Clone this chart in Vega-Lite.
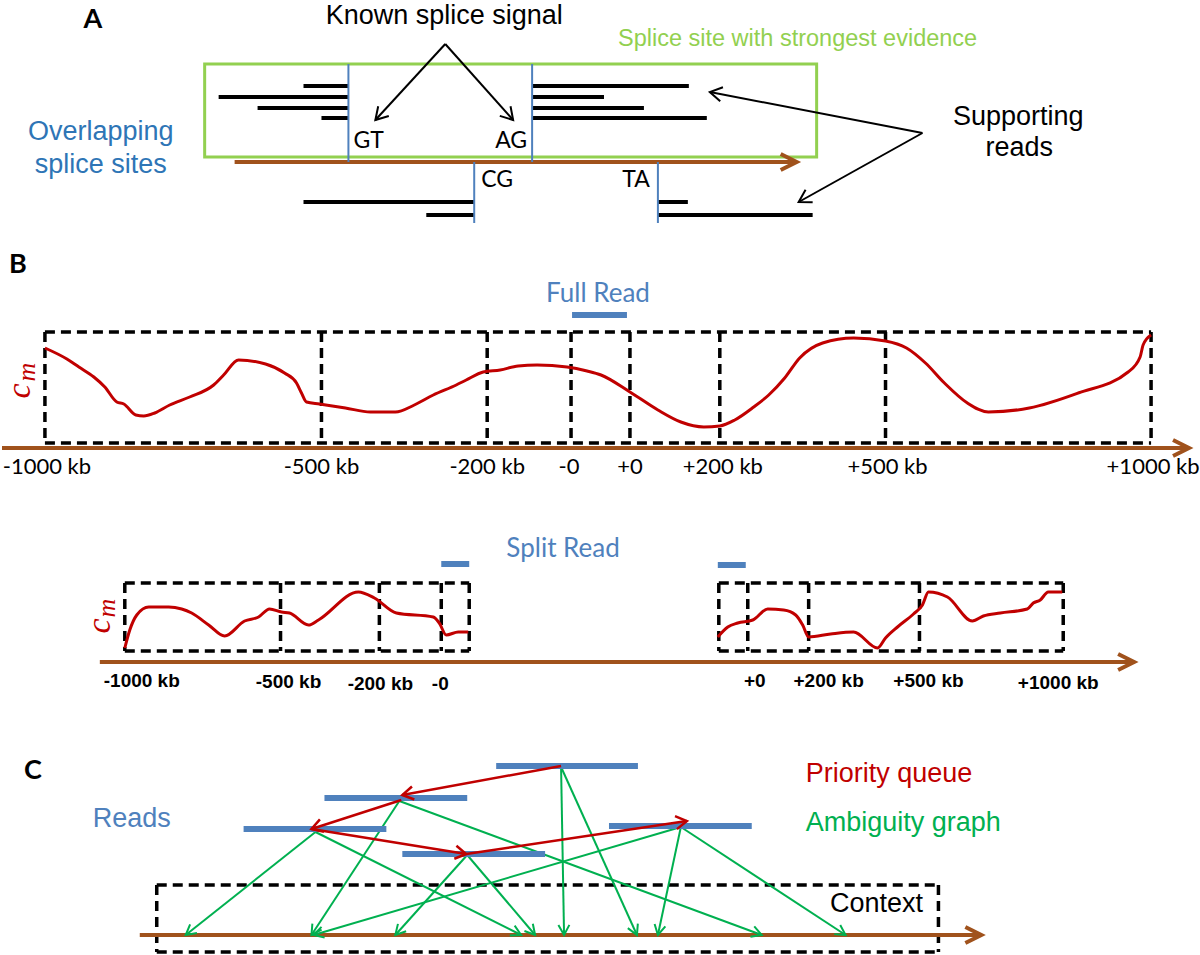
{
"$schema": "https://vega.github.io/schema/vega-lite/v6.json",
"width": 1200, "height": 955,
"autosize": {"type": "fit", "contains": "padding"},
"padding": 0,
"background": "white",
"config": {"view": {"stroke": null}},
"datasets": {
"segs": [
{"kind":"read","x":302,"y":86,"x2":347,"y2":86},{"kind":"read","x":217,"y":97,"x2":347,"y2":97},{"kind":"read","x":256,"y":108,"x2":347,"y2":108},{"kind":"read","x":320,"y":118,"x2":347,"y2":118},
{"kind":"read","x":531,"y":86,"x2":688,"y2":86},{"kind":"read","x":531,"y":97,"x2":603,"y2":97},{"kind":"read","x":531,"y":108,"x2":643,"y2":108},{"kind":"read","x":531,"y":118,"x2":706,"y2":118},
{"kind":"read","x":302,"y":202,"x2":473,"y2":202},{"kind":"read","x":425,"y":215,"x2":473,"y2":215},{"kind":"read","x":657,"y":202,"x2":687,"y2":202},{"kind":"read","x":657,"y":215,"x2":812,"y2":215},
{"kind":"site","x":347,"y":64,"x2":347,"y2":162},{"kind":"site","x":531,"y":64,"x2":531,"y2":162},{"kind":"site","x":473,"y":162,"x2":473,"y2":223},{"kind":"site","x":657,"y":162,"x2":657,"y2":223},
{"kind":"brown","x":233,"y":162,"x2":795,"y2":162},{"kind":"brown","x":0,"y":448,"x2":1187,"y2":448},{"kind":"brown","x":98,"y":662,"x2":1132,"y2":662},{"kind":"brown","x":138,"y":935,"x2":979,"y2":935},
{"kind":"black","x":444,"y":44,"x2":374,"y2":120},{"kind":"black","x":444,"y":44,"x2":512,"y2":120},{"kind":"black","x":922,"y":133,"x2":709,"y2":92},{"kind":"black","x":922,"y":133,"x2":798,"y2":202},
{"kind":"bar","x":571,"y":315,"x2":626,"y2":315},{"kind":"bar","x":440,"y":564,"x2":468,"y2":564},{"kind":"bar","x":717,"y":565,"x2":745,"y2":565},
{"kind":"bar","x":495,"y":766,"x2":637,"y2":766},{"kind":"bar","x":323,"y":798,"x2":466,"y2":798},{"kind":"bar","x":242,"y":829,"x2":385,"y2":829},{"kind":"bar","x":401,"y":854,"x2":544,"y2":854},{"kind":"bar","x":608,"y":826,"x2":751,"y2":826},
{"kind":"green","x":314,"y":832,"x2":184,"y2":935},{"kind":"green","x":314,"y":832,"x2":520,"y2":935},{"kind":"green","x":398,"y":801,"x2":310,"y2":935},{"kind":"green","x":398,"y":801,"x2":761,"y2":935},
{"kind":"green","x":560,"y":767,"x2":563,"y2":935},{"kind":"green","x":560,"y":767,"x2":636,"y2":935},{"kind":"green","x":466,"y":855,"x2":394,"y2":935},{"kind":"green","x":466,"y":855,"x2":534,"y2":935},
{"kind":"green","x":680,"y":827,"x2":657,"y2":935},{"kind":"green","x":680,"y":827,"x2":845,"y2":935},{"kind":"green","x":680,"y":827,"x2":312,"y2":935},
{"kind":"red","x":560,"y":766,"x2":401,"y2":795},{"kind":"red","x":400,"y":800,"x2":310,"y2":829},{"kind":"red","x":310,"y":829,"x2":465,"y2":854},{"kind":"red","x":465,"y":854,"x2":686,"y2":821},
{"kind":"dash","x":43,"y":332,"x2":1151,"y2":332},{"kind":"dash","x":43,"y":443,"x2":1151,"y2":443},
{"kind":"dash","x":43,"y":332,"x2":43,"y2":443},{"kind":"dash","x":320,"y":332,"x2":320,"y2":443},{"kind":"dash","x":486,"y":332,"x2":486,"y2":443},{"kind":"dash","x":570,"y":332,"x2":570,"y2":443},{"kind":"dash","x":629,"y":332,"x2":629,"y2":443},{"kind":"dash","x":719,"y":332,"x2":719,"y2":443},{"kind":"dash","x":885,"y":332,"x2":885,"y2":443},{"kind":"dash","x":1151,"y":332,"x2":1151,"y2":443},
{"kind":"dash","x":123,"y":583,"x2":468,"y2":583},{"kind":"dash","x":123,"y":651,"x2":468,"y2":651},
{"kind":"dash","x":123,"y":583,"x2":123,"y2":651},{"kind":"dash","x":279,"y":583,"x2":279,"y2":651},{"kind":"dash","x":378,"y":583,"x2":378,"y2":651},{"kind":"dash","x":440,"y":583,"x2":440,"y2":651},{"kind":"dash","x":468,"y":583,"x2":468,"y2":651},
{"kind":"dash","x":718,"y":583,"x2":1063,"y2":583},{"kind":"dash","x":718,"y":651,"x2":1063,"y2":651},
{"kind":"dash","x":718,"y":583,"x2":718,"y2":651},{"kind":"dash","x":747,"y":583,"x2":747,"y2":651},{"kind":"dash","x":808,"y":583,"x2":808,"y2":651},{"kind":"dash","x":919,"y":583,"x2":919,"y2":651},{"kind":"dash","x":1063,"y":583,"x2":1063,"y2":651},
{"kind":"dash","x":155,"y":885,"x2":938,"y2":885},{"kind":"dash","x":155,"y":952,"x2":938,"y2":952},{"kind":"dash","x":155,"y":885,"x2":155,"y2":952},{"kind":"dash","x":938,"y":885,"x2":938,"y2":952}
],
"boxes": [
{"kind":"greenbox","x":203,"y":64,"x2":816,"y2":157}
],
"heads": [
{"kind":"black","x":374,"y":120,"angle":132.6},{"kind":"black","x":512,"y":120,"angle":48.2},{"kind":"black","x":709,"y":92,"angle":-169.0},{"kind":"black","x":798,"y":202,"angle":150.5},
{"kind":"brown","x":796,"y":162,"angle":0},{"kind":"brown","x":1189,"y":448,"angle":0},{"kind":"brown","x":1134,"y":662,"angle":0},{"kind":"brown","x":981,"y":935,"angle":0},
{"kind":"red","x":401,"y":795,"angle":169.7},{"kind":"red","x":310,"y":829,"angle":162.1},{"kind":"red","x":465,"y":854,"angle":9.2},{"kind":"red","x":686,"y":821,"angle":-8.5},
{"kind":"green","x":184,"y":935,"angle":141.6},{"kind":"green","x":520,"y":935,"angle":26.6},{"kind":"green","x":310,"y":935,"angle":123.3},{"kind":"green","x":761,"y":935,"angle":20.3},
{"kind":"green","x":563,"y":935,"angle":89.0},{"kind":"green","x":636,"y":935,"angle":65.7},{"kind":"green","x":394,"y":935,"angle":132.0},{"kind":"green","x":534,"y":935,"angle":49.6},
{"kind":"green","x":657,"y":935,"angle":102.0},{"kind":"green","x":845,"y":935,"angle":33.2},{"kind":"green","x":312,"y":935,"angle":163.6}
],
"curves": [
{"c":"f","x":43,"y":348},{"c":"f","x":65,"y":359},{"c":"f","x":77,"y":367},{"c":"f","x":92,"y":377},{"c":"f","x":103,"y":387},{"c":"f","x":115,"y":402},{"c":"f","x":122,"y":404},{"c":"f","x":134,"y":415},{"c":"f","x":142,"y":416},{"c":"f","x":153,"y":413},{"c":"f","x":168,"y":405},{"c":"f","x":188,"y":397},{"c":"f","x":212,"y":385},{"c":"f","x":222,"y":375},{"c":"f","x":237,"y":360},{"c":"f","x":264,"y":364},{"c":"f","x":283,"y":373},{"c":"f","x":295,"y":383},{"c":"f","x":300,"y":393},{"c":"f","x":305,"y":402},{"c":"f","x":318,"y":404},{"c":"f","x":344,"y":408},{"c":"f","x":369,"y":412},{"c":"f","x":394,"y":412},{"c":"f","x":413,"y":405},{"c":"f","x":432,"y":395},{"c":"f","x":455,"y":385},{"c":"f","x":465,"y":380},{"c":"f","x":482,"y":372},{"c":"f","x":499,"y":370},{"c":"f","x":517,"y":366},{"c":"f","x":536,"y":365},{"c":"f","x":566,"y":367},{"c":"f","x":586,"y":371},{"c":"f","x":600,"y":375},{"c":"f","x":629,"y":392},{"c":"f","x":657,"y":410},{"c":"f","x":680,"y":422},{"c":"f","x":703,"y":427},{"c":"f","x":719,"y":426},{"c":"f","x":734,"y":420},{"c":"f","x":753,"y":407},{"c":"f","x":768,"y":395},{"c":"f","x":784,"y":378},{"c":"f","x":799,"y":358},{"c":"f","x":822,"y":343},{"c":"f","x":853,"y":338},{"c":"f","x":885,"y":341},{"c":"f","x":906,"y":348},{"c":"f","x":925,"y":363},{"c":"f","x":944,"y":383},{"c":"f","x":967,"y":403},{"c":"f","x":988,"y":412},{"c":"f","x":1029,"y":408},{"c":"f","x":1078,"y":393},{"c":"f","x":1128,"y":372},{"c":"f","x":1140,"y":357},{"c":"f","x":1143,"y":345},{"c":"f","x":1151,"y":335},
{"c":"s1","x":123,"y":648},{"c":"s1","x":128,"y":630},{"c":"s1","x":135,"y":615},{"c":"s1","x":147,"y":607},{"c":"s1","x":167,"y":607},{"c":"s1","x":180,"y":609},{"c":"s1","x":190,"y":613},{"c":"s1","x":207,"y":625},{"c":"s1","x":223,"y":636},{"c":"s1","x":243,"y":621},{"c":"s1","x":257,"y":617},{"c":"s1","x":268,"y":609},{"c":"s1","x":280,"y":612},{"c":"s1","x":288,"y":613},{"c":"s1","x":307,"y":625},{"c":"s1","x":317,"y":620},{"c":"s1","x":357,"y":592},{"c":"s1","x":373,"y":598},{"c":"s1","x":395,"y":613},{"c":"s1","x":432,"y":617},{"c":"s1","x":438,"y":623},{"c":"s1","x":445,"y":635},{"c":"s1","x":457,"y":632},{"c":"s1","x":467,"y":632},
{"c":"s2","x":717,"y":637},{"c":"s2","x":727,"y":627},{"c":"s2","x":737,"y":623},{"c":"s2","x":752,"y":620},{"c":"s2","x":767,"y":609},{"c":"s2","x":783,"y":610},{"c":"s2","x":795,"y":615},{"c":"s2","x":802,"y":625},{"c":"s2","x":808,"y":637},{"c":"s2","x":830,"y":634},{"c":"s2","x":853,"y":632},{"c":"s2","x":877,"y":648},{"c":"s2","x":885,"y":638},{"c":"s2","x":897,"y":627},{"c":"s2","x":913,"y":614},{"c":"s2","x":922,"y":605},{"c":"s2","x":928,"y":592},{"c":"s2","x":947,"y":597},{"c":"s2","x":972,"y":621},{"c":"s2","x":983,"y":616},{"c":"s2","x":1000,"y":613},{"c":"s2","x":1027,"y":609},{"c":"s2","x":1033,"y":603},{"c":"s2","x":1040,"y":600},{"c":"s2","x":1048,"y":592},{"c":"s2","x":1062,"y":592}
]
},
"encoding": {
"x": {"field":"x","type":"quantitative","scale":{"domain":[0,1200],"nice":false,"zero":false},"axis":null},
"y": {"field":"y","type":"quantitative","scale":{"domain":[0,955],"nice":false,"zero":false,"reverse":true},"axis":null}
},
"layer": [
{"data":{"name":"boxes"},"transform":[{"filter":"datum.kind==='greenbox'"}],"mark":{"type":"rect","fillOpacity":0,"stroke":"#92D050","strokeWidth":3},"encoding":{"x2":{"field":"x2"},"y2":{"field":"y2"}}},
{"data":{"name":"segs"},"transform":[{"filter":"datum.kind==='dash'"}],"mark":{"type":"rule","color":"black","strokeWidth":3.5,"strokeDash":[10,6]},"encoding":{"x2":{"field":"x2"},"y2":{"field":"y2"}}},
{"data":{"name":"segs"},"transform":[{"filter":"datum.kind==='brown'"}],"mark":{"type":"rule","color":"#A0521C","strokeWidth":4},"encoding":{"x2":{"field":"x2"},"y2":{"field":"y2"}}},
{"data":{"name":"segs"},"transform":[{"filter":"datum.kind==='read'"}],"mark":{"type":"rule","color":"black","strokeWidth":4},"encoding":{"x2":{"field":"x2"},"y2":{"field":"y2"}}},
{"data":{"name":"segs"},"transform":[{"filter":"datum.kind==='site'"}],"mark":{"type":"rule","color":"#4F81BD","strokeWidth":2},"encoding":{"x2":{"field":"x2"},"y2":{"field":"y2"}}},
{"data":{"name":"segs"},"transform":[{"filter":"datum.kind==='black'"}],"mark":{"type":"rule","color":"black","strokeWidth":2},"encoding":{"x2":{"field":"x2"},"y2":{"field":"y2"}}},
{"data":{"name":"segs"},"transform":[{"filter":"datum.kind==='green'"}],"mark":{"type":"rule","color":"#00B050","strokeWidth":2},"encoding":{"x2":{"field":"x2"},"y2":{"field":"y2"}}},
{"data":{"name":"segs"},"transform":[{"filter":"datum.kind==='bar'"}],"mark":{"type":"rule","color":"#4F81BD","strokeWidth":6},"encoding":{"x2":{"field":"x2"},"y2":{"field":"y2"}}},
{"data":{"name":"segs"},"transform":[{"filter":"datum.kind==='red'"}],"mark":{"type":"rule","color":"#C00000","strokeWidth":2.5},"encoding":{"x2":{"field":"x2"},"y2":{"field":"y2"}}},
{"data":{"name":"curves"},"mark":{"type":"line","color":"#C00000","strokeWidth":3,"interpolate":"monotone"},"encoding":{"detail":{"field":"c"}}},
{"data":{"name":"heads"},"transform":[{"filter":"datum.kind==='black'"}],"mark":{"type":"point","shape":"M-1,-0.6L0,0L-1,0.6","filled":false,"size":576,"strokeWidth":2,"color":"black","opacity":1},"encoding":{"angle":{"field":"angle","type":"quantitative","scale":null}}},
{"data":{"name":"heads"},"transform":[{"filter":"datum.kind==='brown'"}],"mark":{"type":"point","shape":"M-1.6,-0.8L0,0L-1.6,0.8","filled":false,"size":400,"strokeWidth":4,"color":"#A0521C","opacity":1},"encoding":{"angle":{"field":"angle","type":"quantitative","scale":null}}},
{"data":{"name":"heads"},"transform":[{"filter":"datum.kind==='red'"}],"mark":{"type":"point","shape":"M-1,-0.6L0,0L-1,0.6","filled":false,"size":484,"strokeWidth":2.5,"color":"#C00000","opacity":1},"encoding":{"angle":{"field":"angle","type":"quantitative","scale":null}}},
{"data":{"name":"heads"},"transform":[{"filter":"datum.kind==='green'"}],"mark":{"type":"point","shape":"M-1,-0.55L0,0L-1,0.55","filled":false,"size":400,"strokeWidth":2,"color":"#00B050","opacity":1},"encoding":{"angle":{"field":"angle","type":"quantitative","scale":null}}},
{"data":{"values":[{"x":91,"y":28,"t":"A"},{"x":16,"y":273,"t":"B"},{"x":31,"y":779,"t":"C"}]},"mark":{"type":"text","font":"Lato","fontWeight":"bold","fontSize":27,"color":"black","align":"center","baseline":"alphabetic"},"encoding":{"text":{"field":"t"}}},
{"data":{"values":[{"x":443,"y":24,"t":"Known splice signal"},{"x":1018,"y":125,"t":"Supporting"},{"x":1019,"y":156,"t":"reads"},{"x":876,"y":912,"t":"Context"}]},"mark":{"type":"text","font":"Liberation Sans","fontSize":27,"color":"black","align":"center","baseline":"alphabetic"},"encoding":{"text":{"field":"t"}}},
{"data":{"values":[{"x":99,"y":140,"t":"Overlapping"},{"x":99,"y":173,"t":"splice sites"}]},"mark":{"type":"text","font":"Liberation Sans","fontSize":27,"color":"#2E75B6","align":"center","baseline":"alphabetic"},"encoding":{"text":{"field":"t"}}},
{"data":{"values":[{"x":617,"y":46,"t":"Splice site with strongest evidence"}]},"mark":{"type":"text","font":"Liberation Sans","fontSize":23.5,"color":"#92D050","align":"left","baseline":"alphabetic"},"encoding":{"text":{"field":"t"}}},
{"data":{"values":[{"x":352,"y":148,"t":"GT"},{"x":480,"y":187,"t":"CG"}]},"mark":{"type":"text","font":"Lato","fontSize":23,"color":"black","align":"left","baseline":"alphabetic"},"encoding":{"text":{"field":"t"}}},
{"data":{"values":[{"x":526,"y":148,"t":"AG"},{"x":649,"y":187,"t":"TA"}]},"mark":{"type":"text","font":"Lato","fontSize":23,"color":"black","align":"right","baseline":"alphabetic"},"encoding":{"text":{"field":"t"}}},
{"data":{"values":[{"x":597,"y":302,"t":"Full Read"},{"x":562,"y":557,"t":"Split Read"}]},"mark":{"type":"text","font":"Lato","fontSize":26,"color":"#4F81BD","align":"center","baseline":"alphabetic"},"encoding":{"text":{"field":"t"}}},
{"data":{"values":[{"x":45,"y":474,"t":"-1000 kb"},{"x":320,"y":474,"t":"-500 kb"},{"x":486,"y":474,"t":"-200 kb"},{"x":568,"y":474,"t":"-0"},{"x":629,"y":474,"t":"+0"},{"x":722,"y":474,"t":"+200 kb"},{"x":887,"y":474,"t":"+500 kb"},{"x":1153,"y":474,"t":"+1000 kb"}]},"mark":{"type":"text","font":"Lato","fontSize":22,"color":"black","align":"center","baseline":"alphabetic"},"encoding":{"text":{"field":"t"}}},
{"data":{"values":[{"x":140,"y":687,"t":"-1000 kb"},{"x":287,"y":688,"t":"-500 kb"},{"x":379,"y":690,"t":"-200 kb"},{"x":439,"y":690,"t":"-0"},{"x":754,"y":687,"t":"+0"},{"x":828,"y":687,"t":"+200 kb"},{"x":928,"y":687,"t":"+500 kb"},{"x":1058,"y":689,"t":"+1000 kb"}]},"mark":{"type":"text","font":"Liberation Sans","fontWeight":"bold","fontSize":19,"color":"black","align":"center","baseline":"alphabetic"},"encoding":{"text":{"field":"t"}}},
{"data":{"values":[{"x":130,"y":827,"t":"Reads"}]},"mark":{"type":"text","font":"Liberation Sans","fontSize":27,"color":"#4F81BD","align":"center","baseline":"alphabetic"},"encoding":{"text":{"field":"t"}}},
{"data":{"values":[{"x":805,"y":782,"t":"Priority queue"}]},"mark":{"type":"text","font":"Liberation Sans","fontSize":27,"color":"#C00000","align":"left","baseline":"alphabetic"},"encoding":{"text":{"field":"t"}}},
{"data":{"values":[{"x":805,"y":831,"t":"Ambiguity graph"}]},"mark":{"type":"text","font":"Liberation Sans","fontSize":27,"color":"#00B050","align":"left","baseline":"alphabetic"},"encoding":{"text":{"field":"t"}}},
{"data":{"values":[{"x":28,"y":391,"t":"c"},{"x":108,"y":626,"t":"c"}]},"mark":{"type":"text","font":"Liberation Serif","fontStyle":"italic","fontSize":34,"color":"#C00000","align":"center","baseline":"alphabetic","angle":270},"encoding":{"text":{"field":"t"}}},
{"data":{"values":[{"x":33,"y":372,"t":"m"},{"x":113,"y":608,"t":"m"}]},"mark":{"type":"text","font":"Liberation Serif","fontStyle":"italic","fontSize":26,"color":"#C00000","align":"center","baseline":"alphabetic","angle":270},"encoding":{"text":{"field":"t"}}}
]
}
